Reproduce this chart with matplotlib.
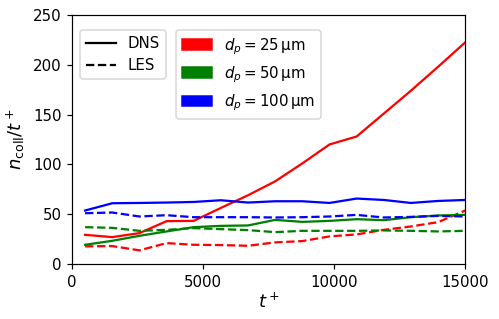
import numpy as np
import matplotlib
matplotlib.use("Agg")
import matplotlib.pyplot as plt
from matplotlib.lines import Line2D
from matplotlib.patches import Patch

t = np.linspace(500, 15000, 15)

dns_25 = [29.3, 27, 31, 43, 43.3, 56.3, 69, 83, 101, 120, 128, 151, 174, 198, 222.5]
les_25 = [17.7, 18, 13.7, 21, 19.3, 19, 18.3, 21.7, 23, 27.7, 29.7, 34.3, 37.7, 42, 53.7]
dns_50 = [19.3, 23.3, 28.3, 32.7, 37, 38.3, 38.7, 44.3, 42.3, 43.3, 45, 44, 47, 48.7, 49.3]
les_50 = [37, 36.3, 33.3, 34.3, 36, 35, 34, 32, 33.3, 33.3, 33.3, 33.7, 33.3, 32.7, 33.3]
dns_100 = [53.7, 61, 61.3, 61.7, 62.3, 64, 61.7, 63, 63, 61.3, 65.7, 64.3, 61.3, 63.3, 64.3]
les_100 = [51, 51.7, 47.7, 49, 47, 47, 47, 46.7, 47, 47.7, 49.3, 46.7, 47.3, 48.3, 47.7]

sizes = ["25", "50", "100"]
colors = ["red", "green", "blue"]

dpi = 108
fig = plt.figure(figsize=(499 / dpi, 319 / dpi), dpi=dpi)
ax = fig.add_axes([0.1443, 0.1724, 0.788, 0.7806])

for dns, les, c in zip([dns_25, dns_50, dns_100], [les_25, les_50, les_100], colors):
    ax.plot(t, dns, color=c, lw=1.5, ls='-')
    ax.plot(t, les, color=c, lw=1.5, ls='--')

ax.set_xlim(0, 15000)
ax.set_ylim(0, 250)
ax.set_xticks([0, 5000, 10000, 15000])
ax.set_yticks([0, 50, 100, 150, 200, 250])
ax.tick_params(labelsize=10)
ax.set_xlabel(r'$t^+$', fontsize=12, labelpad=2)
ax.set_ylabel(r'$n_\mathrm{coll}/t^+$', fontsize=12)

h1 = [Line2D([], [], color='black', ls='-', lw=1.5),
      Line2D([], [], color='black', ls='--', lw=1.5)]
leg1 = ax.legend(h1, ['DNS', 'LES'], loc='upper left', fontsize=10,
                 bbox_to_anchor=(0.0196, 0.94), borderaxespad=0)
ax.add_artist(leg1)
h2 = [Patch(color=c) for c in colors]
l2 = [r'$d_p = %s\,\mathrm{\mu m}$' % s for s in sizes]
ax.legend(h2, l2, loc='upper left', fontsize=10,
          bbox_to_anchor=(0.264, 0.94), borderaxespad=0)

fig.savefig('out.png', dpi=dpi)
